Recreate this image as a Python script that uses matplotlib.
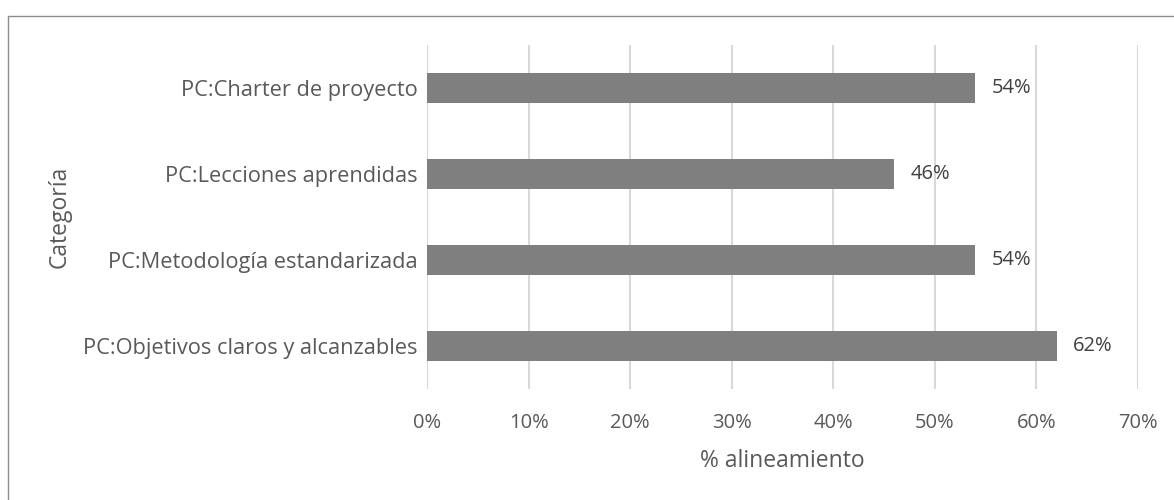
import matplotlib
matplotlib.use("Agg")
import matplotlib.pyplot as plt
from matplotlib.patches import Rectangle
from matplotlib.ticker import FuncFormatter

plt.rcParams['font.family'] = ['Open Sans', 'DejaVu Sans']

categories = [
    "PC:Charter de proyecto",
    "PC:Lecciones aprendidas",
    "PC:Metodología estandarizada",
    "PC:Objetivos claros y alcanzables",
]
values = [54, 46, 54, 62]
x_ticks = [0, 10, 20, 30, 40, 50, 60, 70]

text_color = "#595959"
bar_color = "#7f7f7f"
grid_color = "#d9d9d9"

fig = plt.figure(figsize=(11.74, 5.0), dpi=100)
fig.patch.set_facecolor("white")

# Outer chart frame
fig.patches.append(Rectangle((8 / 1174, -0.1), 1.2, 1 - 16 / 500 + 0.1,
                             transform=fig.transFigure, fill=False,
                             edgecolor="#8c8c8c", linewidth=1.0))

ax = fig.add_axes([427 / 1174, 1 - 389 / 500, (1138 - 427) / 1174, (389 - 45) / 500])

ypos = list(range(len(categories)))
ax.barh(ypos, values, height=0.35, color=bar_color, zorder=3)
ax.set_ylim(len(categories) - 0.5, -0.5)
ax.set_xlim(0, 70)
ax.set_xticks(x_ticks)
ax.xaxis.set_major_formatter(FuncFormatter(lambda v, p: f"{v:.0f}%"))
ax.set_yticks(ypos)
ax.set_yticklabels(categories)

for y, v in zip(ypos, values):
    ax.annotate(f"{v}%", xy=(v, y), xytext=(11.5, 0), textcoords="offset points",
                va="center", ha="left", fontsize=14.5, color="#404040")

ax.grid(axis="x", color=grid_color, linewidth=1.5, zorder=0)
for s in ax.spines.values():
    s.set_visible(False)
ax.tick_params(axis="both", length=0, colors=text_color)
ax.tick_params(axis="y", pad=7, labelsize=15.7)
ax.tick_params(axis="x", pad=17, labelsize=14.5)

ax.set_xlabel("% alineamiento", fontsize=16.5, color=text_color, labelpad=12)
fig.text(60 / 1174, 1 - 217 / 500, "Categoría", rotation=90, fontsize=16.5,
         color=text_color, ha="center", va="center")

fig.savefig("out.png", dpi=100, facecolor="white")
